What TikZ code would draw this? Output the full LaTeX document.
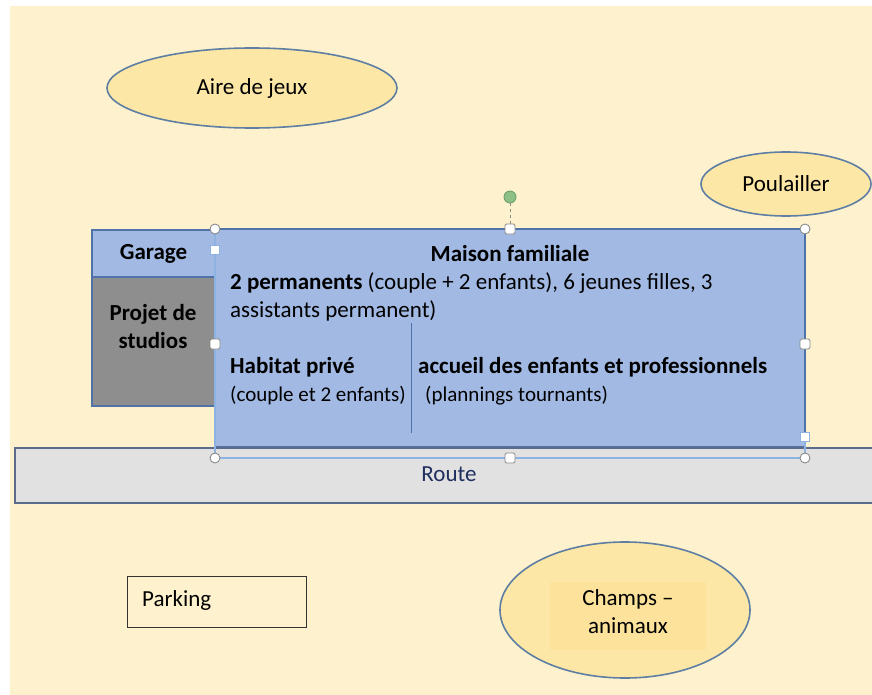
\documentclass[tikz,border=0pt]{standalone}
\usepackage{fontspec}
\setmainfont{Carlito}
\usetikzlibrary{shapes.geometric}
\definecolor{cream}{HTML}{FEF1CD}
\definecolor{gold}{HTML}{FCE7A6}
\definecolor{goldin}{HTML}{FDE29B}
\definecolor{edge}{HTML}{5E7FA3}
\definecolor{housefill}{HTML}{A1B9E3}
\definecolor{houseedge}{HTML}{4F73A8}
\definecolor{studio}{HTML}{8E8E8E}
\definecolor{roadfill}{HTML}{E1E1E1}
\definecolor{roadedge}{HTML}{5A6B8C}
\definecolor{roadtext}{HTML}{1F2F5F}
\definecolor{selblue}{HTML}{8DB3E2}
\definecolor{handle}{HTML}{8A8A8A}
\definecolor{rotgreen}{HTML}{8CC084}
\tikzset{
  big/.style={font=\fontsize{23}{28}\selectfont},
  bigb/.style={font=\bfseries\fontsize{23}{28}\selectfont},
  small/.style={font=\fontsize{21}{24}\selectfont},
  lbl/.style={inner sep=0pt, anchor=base west},
  oval/.style={ellipse, draw=edge, line width=1.6pt, fill=gold, inner sep=0pt, big},
  house/.style={draw=houseedge, line width=1.5pt, fill=housefill, inner sep=0pt},
  circh/.style={circle, draw=handle, fill=white, line width=0.9pt, minimum size=10pt, inner sep=0pt},
  sqh/.style={rectangle, rounded corners=1.5pt, draw=handle, fill=white, line width=0.9pt, minimum size=10pt, inner sep=0pt},
  whsq/.style={rectangle, fill=white, draw=selblue, line width=0.5pt, minimum size=9pt, inner sep=0pt},
}
\begin{document}
\begin{tikzpicture}[x=1pt,y=-1pt]
\useasboundingbox (0,0) rectangle (872,695);
\fill[white] (0,0) rectangle (872,695);
\fill[cream] (10,6) rectangle (872,695);

% ovals
\node[oval, minimum width=290pt, minimum height=80pt] (aire) at (252,88) {Aire de jeux};
\node[oval, minimum width=170pt, minimum height=64pt] (poul) at (786,184) {Poulailler};
\node[oval, minimum width=250pt, minimum height=136pt] (champ) at (625,610) {};
\node[fill=goldin, minimum width=156pt, minimum height=68pt, inner sep=0pt] (champbox) at (628,616) {};
\node[big, align=center, inner sep=0pt] (champtxt) at (628,612) {Champs –\\animaux};

% parking
\node[draw=black!80, line width=1pt, minimum width=179pt, minimum height=51pt, inner sep=0pt] (park) at (216.5,601.5) {};
\node[big, lbl] (parktxt) at (142,606) {Parking};

% garage and studios
\node[house, minimum width=123pt, minimum height=47pt] (garage) at (153.5,253.5) {};
\node[bigb, inner sep=0pt] at (garage.center) {Garage};
\node[draw=houseedge, line width=1.5pt, fill=studio, minimum width=123pt, minimum height=129pt, inner sep=0pt] (studios) at (153.5,341.5) {};
\node[bigb, align=center, inner sep=0pt] at (153,327) {Projet de\\studios};

% maison
\node[house, minimum width=590pt, minimum height=218pt] (maison) at (510,338) {};
\node[bigb, inner sep=0pt, anchor=base] (mtitle) at (510,261) {Maison familiale};
\node[big, lbl] (l1) at (230,289) {\textbf{2 permanents} (couple + 2 enfants), 6 jeunes filles, 3};
\node[big, lbl] (l2) at (230,317) {assistants permanent)};
\node[big, lbl] (hab) at (230,373) {\textbf{Habitat privé}};
\node[small, lbl] (hab2) at (230,401) {(couple et 2 enfants)};
\node[big, lbl] (acc) at (418,373) {\textbf{accueil des enfants et professionnels}};
\node[small, lbl] (acc2) at (425,401) {(plannings tournants)};
\coordinate (dtop) at (411,323);
\coordinate (dbot) at (411,433);
\draw[houseedge, line width=0.8pt] (dtop) -- (dbot);

% route
\node[draw=roadedge, line width=1.5pt, fill=roadfill, minimum width=870pt, minimum height=55pt, inner sep=0pt, anchor=north west] (route) at (14,447) {};
\node[big, text=roadtext, inner sep=0pt] (routetxt) at (449,474) {Route};

% selection frame
\coordinate (f1) at (215,229);
\coordinate (f2) at (215,458);
\coordinate (f3) at (805,458);
\coordinate (f4) at (805,437);
\draw[selblue, line width=1.2pt] (f1) -- (f2) -- (f3) -- (f4);

% handles
\node[circh] (hTL) at (215,229) {};
\node[circh] (hTR) at (805,229) {};
\node[circh] (hBL) at (215,458) {};
\node[circh] (hBR) at (805,458) {};
\node[sqh] (hT) at (510,229) {};
\node[sqh] (hL) at (215,344) {};
\node[sqh] (hR) at (805,344) {};
\node[sqh] (hB) at (510,458) {};
\node[whsq] (s1) at (215,250) {};
\node[whsq] (s2) at (805,437) {};
\node[circle, draw=handle!80!green, fill=rotgreen, line width=0.9pt, minimum size=12pt, inner sep=0pt] (rot) at (510,197) {};
\draw[handle, dashed, line width=0.9pt] (rot) -- (hT);
\end{tikzpicture}
\end{document}
